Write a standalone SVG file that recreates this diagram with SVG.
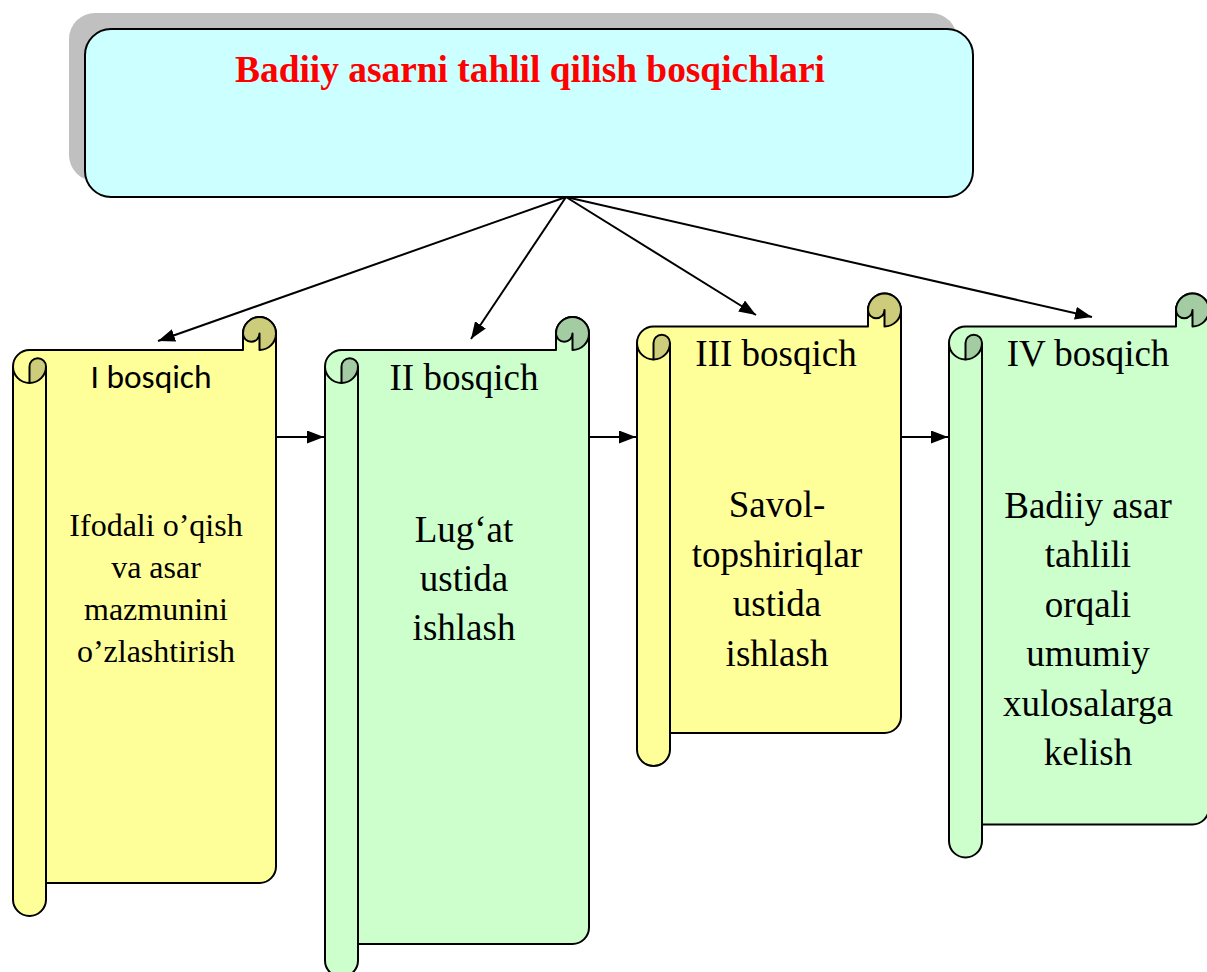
<svg xmlns="http://www.w3.org/2000/svg" width="1207" height="972" viewBox="0 0 1207 972">
<style>
.ln{stroke:#000;stroke-width:2;fill:none;stroke-linejoin:round}
.ol{stroke:#000;stroke-width:2;stroke-linejoin:round}
.y{fill:#FFFF99}.yd{fill:#CCCC7A}
.g{fill:#CCFFCC}.gd{fill:#A3CCA3}
.t{font-family:"Liberation Serif","Times New Roman",serif;font-size:37px;fill:#000;text-anchor:middle}
.t1{font-family:"Liberation Serif","Times New Roman",serif;font-size:32px;fill:#000;text-anchor:middle}
.s{font-family:Carlito,Calibri,Lato,"Liberation Sans",sans-serif;font-size:33px;fill:#000;text-anchor:middle}
</style>
<defs>
<marker id="ah" markerUnits="userSpaceOnUse" markerWidth="17" markerHeight="13" viewBox="0 0 17 13" refX="17" refY="6.5" orient="auto"><path d="M0,0 L17,6.5 L0,13 Z" fill="#000"/></marker>
</defs>
<rect width="1207" height="972" fill="#fff"/>
<g id="header">
<rect x="69" y="13" width="888" height="168" rx="26" fill="#C0C0C0"/>
<rect x="85" y="29" width="888" height="168" rx="26" fill="#CCFFFF" stroke="#000" stroke-width="2"/>
<text x="530" y="82" textLength="590" lengthAdjust="spacingAndGlyphs" style="font-family:'Liberation Serif','Times New Roman',serif;font-size:37px;font-weight:bold;fill:#FF0000;text-anchor:middle">Badiiy asarni tahlil qilish bosqichlari</text>
</g>
<g id="stage1">
<path class="y ol" d="M29.5,350 H243 V333.5 A16.5,16.5 0 0 1 276,333.5 V866.5 A16.5,16.5 0 0 1 259.5,883 H46 V899.5 A16.5,16.5 0 0 1 13,899.5 V366.5 A16.5,16.5 0 0 1 29.5,350 Z"/>
<path class="yd ol" d="M259.5,350 A16.5,16.5 0 1 0 243,333.5 A8.25,8.25 0 0 0 259.5,333.5 Z"/>
<path class="yd ol" d="M29.5,366.5 V383 A16.5,16.5 0 0 0 46,366.5 A8.25,8.25 0 0 0 29.5,366.5 Z"/>
<path class="ln" d="M13,366.5 A16.5,16.5 0 0 0 29.5,383 M46,366.5 V883"/>
<text class="s" x="151" y="388" textLength="121" lengthAdjust="spacingAndGlyphs">I bosqich</text>
<text class="t1" x="156" y="536">Ifodali o’qish</text>
<text class="t1" x="156" y="578">va asar</text>
<text class="t1" x="156" y="620">mazmunini</text>
<text class="t1" x="156" y="662">o’zlashtirish</text>
</g>
<g id="stage2">
<path class="g ol" d="M341.5,350 H556 V333.5 A16.5,16.5 0 0 1 589,333.5 V927.5 A16.5,16.5 0 0 1 572.5,944 H358 V960.5 A16.5,16.5 0 0 1 325,960.5 V366.5 A16.5,16.5 0 0 1 341.5,350 Z"/>
<path class="gd ol" d="M572.5,350 A16.5,16.5 0 1 0 556,333.5 A8.25,8.25 0 0 0 572.5,333.5 Z"/>
<path class="gd ol" d="M341.5,366.5 V383 A16.5,16.5 0 0 0 358,366.5 A8.25,8.25 0 0 0 341.5,366.5 Z"/>
<path class="ln" d="M325,366.5 A16.5,16.5 0 0 0 341.5,383 M358,366.5 V944"/>
<text class="t" x="464" y="390">II bosqich</text>
<text class="t" x="464" y="542">Lug‘at</text>
<text class="t" x="464" y="591">ustida</text>
<text class="t" x="464" y="640">ishlash</text>
</g>
<g id="stage3">
<path class="y ol" d="M653.5,326.5 H868 V310 A16.5,16.5 0 0 1 901,310 V716.5 A16.5,16.5 0 0 1 884.5,733 H670 V749.5 A16.5,16.5 0 0 1 637,749.5 V343 A16.5,16.5 0 0 1 653.5,326.5 Z"/>
<path class="yd ol" d="M884.5,326.5 A16.5,16.5 0 1 0 868,310 A8.25,8.25 0 0 0 884.5,310 Z"/>
<path class="yd ol" d="M653.5,343 V359.5 A16.5,16.5 0 0 0 670,343 A8.25,8.25 0 0 0 653.5,343 Z"/>
<path class="ln" d="M637,343 A16.5,16.5 0 0 0 653.5,359.5 M670,343 V733"/>
<text class="t" x="776" y="366">III bosqich</text>
<text class="t" x="777" y="517">Savol-</text>
<text class="t" x="777" y="567">topshiriqlar</text>
<text class="t" x="777" y="616">ustida</text>
<text class="t" x="777" y="666">ishlash</text>
</g>
<g id="stage4">
<path class="g ol" d="M965.5,326.5 H1176 V310 A16.5,16.5 0 0 1 1209,310 V808 A16.5,16.5 0 0 1 1192.5,824.5 H982 V841 A16.5,16.5 0 0 1 949,841 V343 A16.5,16.5 0 0 1 965.5,326.5 Z"/>
<path class="gd ol" d="M1192.5,326.5 A16.5,16.5 0 1 0 1176,310 A8.25,8.25 0 0 0 1192.5,310 Z"/>
<path class="gd ol" d="M965.5,343 V359.5 A16.5,16.5 0 0 0 982,343 A8.25,8.25 0 0 0 965.5,343 Z"/>
<path class="ln" d="M949,343 A16.5,16.5 0 0 0 965.5,359.5 M982,343 V824.5"/>
<text class="t" x="1088" y="366">IV bosqich</text>
<text class="t" x="1088" y="518">Badiiy asar</text>
<text class="t" x="1088" y="567">tahlili</text>
<text class="t" x="1088" y="617">orqali</text>
<text class="t" x="1088" y="666">umumiy</text>
<text class="t" x="1088" y="716">xulosalarga</text>
<text class="t" x="1088" y="765">kelish</text>
</g>
<g id="connectors" class="ln">
<line x1="566" y1="197" x2="158" y2="341" marker-end="url(#ah)"/>
<line x1="566" y1="197" x2="471" y2="339" marker-end="url(#ah)"/>
<line x1="566" y1="197" x2="756" y2="315" marker-end="url(#ah)"/>
<line x1="566" y1="197" x2="1092" y2="317" marker-end="url(#ah)"/>
<line x1="277" y1="437" x2="324" y2="437" marker-end="url(#ah)"/>
<line x1="590" y1="437" x2="636" y2="437" marker-end="url(#ah)"/>
<line x1="902" y1="437" x2="948" y2="437" marker-end="url(#ah)"/>
</g>
</svg>
